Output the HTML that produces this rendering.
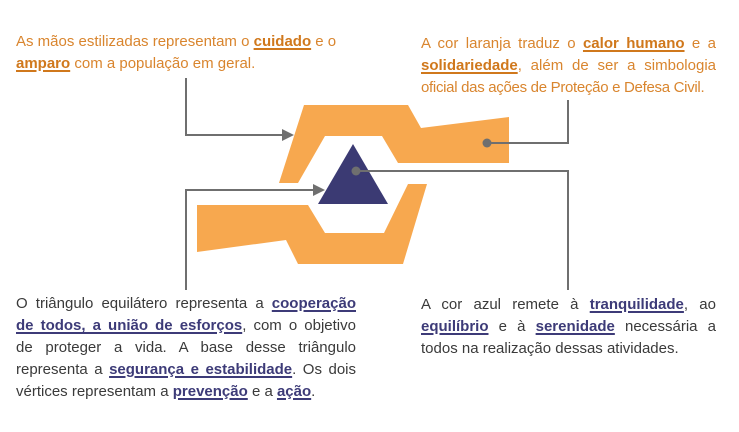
<!DOCTYPE html>
<html><head><meta charset="utf-8"><style>
body{margin:0;width:739px;height:432px;background:#fff;position:relative;overflow:hidden;font-family:"Liberation Sans",sans-serif;font-size:15px}
.l{position:absolute;white-space:nowrap;height:22px;line-height:22px}
.j{text-align:justify;text-align-last:justify}
.o{color:#D9852E}
.g{color:#3a3a3a}
.o b{color:#D0781C;text-decoration:underline;text-decoration-thickness:2px;text-underline-offset:2px}
.g b{color:#3D3B78;text-decoration:underline;text-decoration-thickness:2px;text-underline-offset:2px}
svg{position:absolute;left:0;top:0}
</style></head><body>
<svg width="739" height="432">
<polygon points="304,105 408,105 421,128 509,117 509,163 398,163 382,136 325,136 298,183 279,183" fill="#F7A84F"/>
<polygon points="427,184 408,184 384,233 325,233 308,205 197,205 197,252 286,240 298,264 403,264" fill="#F7A84F"/>
<polygon points="353,144 318,204 388,204" fill="#3B3A73"/>
<g stroke="#6f6f6f" stroke-width="2" fill="none">
<polyline points="186,78 186,135 284,135"/>
<polyline points="487,143 568,143 568,100"/>
<polyline points="356,171 568,171 568,290"/>
<polyline points="186,290 186,190 316,190"/>
</g>
<polygon points="294,135 282,129 282,141" fill="#6f6f6f"/>
<polygon points="325,190 313,184 313,196" fill="#6f6f6f"/>
<circle cx="487" cy="143" r="4.5" fill="#6f6f6f"/>
<circle cx="356" cy="171" r="4.5" fill="#6f6f6f"/>
</svg>
<div class="l o" style="left:16px;top:31px">As mãos estilizadas representam o <b>cuidado</b> e o</div>
<div class="l o" style="left:16px;top:53px"><b>amparo</b> com a população em geral.</div>

<div class="l o j" style="left:421px;top:33px;width:295px">A cor laranja traduz o <b>calor humano</b> e a</div>
<div class="l o j" style="left:421px;top:55px;width:295px"><b>solidariedade</b>, além de ser a simbologia</div>
<div class="l o" style="left:421px;top:77px;width:295px;letter-spacing:-0.3px">oficial das ações de Proteção e Defesa Civil.</div>

<div class="l g j" style="left:16px;top:293px;width:340px">O triângulo equilátero representa a <b>cooperação</b></div>
<div class="l g j" style="left:16px;top:315px;width:340px"><b>de todos, a união de esforços</b>, com o objetivo</div>
<div class="l g j" style="left:16px;top:337px;width:340px">de proteger a vida. A base desse triângulo</div>
<div class="l g j" style="left:16px;top:359px;width:340px">representa a <b>segurança e estabilidade</b>. Os dois</div>
<div class="l g" style="left:16px;top:381px">vértices representam a <b>prevenção</b> e a <b>ação</b>.</div>

<div class="l g j" style="left:421px;top:294px;width:295px">A cor azul remete à <b>tranquilidade</b>, ao</div>
<div class="l g j" style="left:421px;top:316px;width:295px"><b>equilíbrio</b> e à <b>serenidade</b> necessária a</div>
<div class="l g" style="left:421px;top:338px">todos na realização dessas atividades.</div>
</body></html>
